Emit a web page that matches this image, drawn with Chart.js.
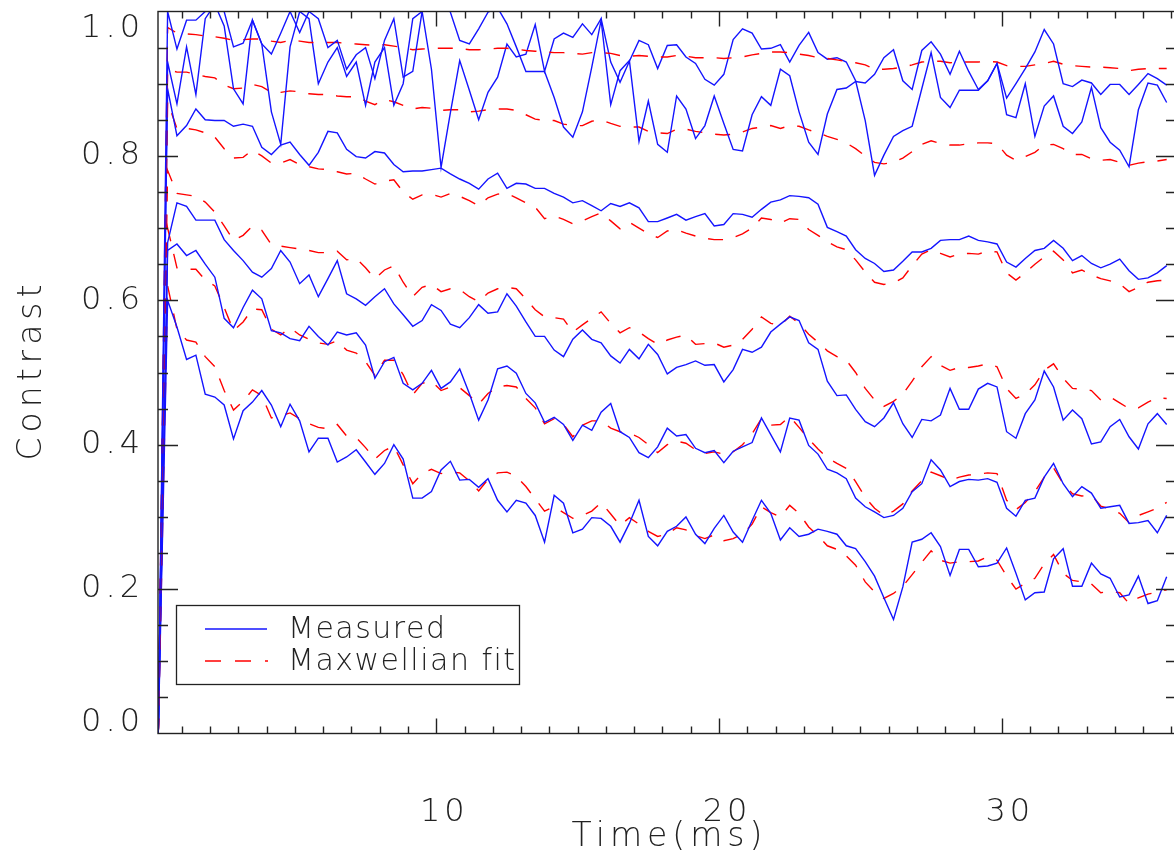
<!DOCTYPE html>
<html>
<head>
<meta charset="utf-8">
<script src="https://cdn.jsdelivr.net/npm/chart.js@4.4.0/dist/chart.umd.min.js"></script>
<style>
  html, body { margin: 0; padding: 0; overflow: hidden; background: #fff; }
</style>
</head>
<body>
<canvas id="grafico" width="1178" height="855"></canvas>
<script>
// sample times (ms)
const time = [
  0.17, 0.50, 0.83, 1.17, 1.50, 1.83, 2.17, 2.50, 2.83, 3.17, 3.50, 3.83,
  4.17, 4.50, 4.83, 5.17, 5.50, 5.83, 6.17, 6.50, 6.83, 7.17, 7.50, 7.83,
  8.17, 8.50, 8.83, 9.17, 9.50, 9.83, 10.17, 10.50, 10.83, 11.17, 11.50, 11.83,
  12.17, 12.50, 12.83, 13.17, 13.50, 13.83, 14.17, 14.50, 14.83, 15.17, 15.50, 15.83,
  16.17, 16.50, 16.83, 17.17, 17.50, 17.83, 18.17, 18.50, 18.83, 19.17, 19.50, 19.83,
  20.17, 20.50, 20.83, 21.17, 21.50, 21.83, 22.17, 22.50, 22.83, 23.17, 23.50, 23.83,
  24.17, 24.50, 24.83, 25.17, 25.50, 25.83, 26.17, 26.50, 26.83, 27.17, 27.50, 27.83,
  28.17, 28.50, 28.83, 29.17, 29.50, 29.83, 30.17, 30.50, 30.83, 31.17, 31.50, 31.83,
  32.17, 32.50, 32.83, 33.17, 33.50, 33.83, 34.17, 34.50, 34.83, 35.17, 35.50, 35.83
];

// measured contrast, six curves
const measured1 = [
  0, 1.0, 0.948, 0.988, 0.988, 1.0, 1.02, 1.0, 0.951, 0.956, 0.988, 0.955,
  0.941, 0.97, 1.0, 0.971, 1.0, 0.99, 0.95, 0.96, 0.92, 0.94, 0.95, 0.907,
  0.96, 0.99, 0.909, 0.917, 1.0, 1.01, 1.02, 0.999, 0.960, 0.955, 0.976, 0.999,
  1.005, 0.983, 0.951, 0.917, 0.917, 0.917, 0.881, 0.840, 0.826, 0.861, 0.923, 0.988,
  0.871, 0.918, 0.932, 0.820, 0.876, 0.816, 0.805, 0.883, 0.865, 0.824, 0.842, 0.883,
  0.845, 0.809, 0.807, 0.857, 0.882, 0.870, 0.920, 0.911, 0.861, 0.819, 0.802, 0.858,
  0.892, 0.894, 0.903, 0.901, 0.913, 0.936, 0.947, 0.904, 0.892, 0.946, 0.958, 0.941,
  0.913, 0.945, 0.917, 0.892, 0.904, 0.928, 0.880, 0.900, 0.921, 0.944, 0.975, 0.955,
  0.900, 0.896, 0.905, 0.901, 0.885, 0.899, 0.899, 0.885, 0.899, 0.914, 0.907, 0.898
];
const measured2 = [
  0, 0.93, 0.872, 0.951, 0.885, 0.99, 1.01, 0.98, 0.893, 0.872, 0.988, 0.955,
  0.861, 0.816, 0.951, 1.0, 0.99, 0.90, 0.93, 0.95, 0.91, 0.93, 0.87, 0.93,
  0.95, 0.87, 0.90, 0.99, 1.0, 0.92, 0.784, 0.86, 0.932, 0.891, 0.850, 0.888,
  0.909, 0.955, 0.937, 0.941, 0.982, 0.917, 0.962, 0.970, 0.964, 0.983, 0.968, 0.990,
  0.930, 0.902, 0.931, 0.960, 0.954, 0.921, 0.953, 0.954, 0.937, 0.928, 0.906, 0.898,
  0.913, 0.961, 0.976, 0.970, 0.948, 0.949, 0.954, 0.930, 0.953, 0.971, 0.943, 0.934,
  0.936, 0.930, 0.904, 0.849, 0.773, 0.801, 0.827, 0.835, 0.841, 0.893, 0.943, 0.881,
  0.867, 0.891, 0.891, 0.891, 0.904, 0.928, 0.857, 0.853, 0.900, 0.827, 0.869, 0.883,
  0.841, 0.831, 0.847, 0.895, 0.839, 0.819, 0.808, 0.785, 0.864, 0.901, 0.898, 0.874
];
const measured3 = [
  0, 0.893, 0.828, 0.842, 0.865, 0.850, 0.849, 0.849, 0.841, 0.844, 0.841, 0.812,
  0.802, 0.815, 0.819, 0.802, 0.787, 0.805, 0.834, 0.832, 0.809, 0.799, 0.797, 0.806,
  0.804, 0.788, 0.778, 0.779, 0.779, 0.781, 0.783, 0.775, 0.768, 0.762, 0.754, 0.768,
  0.776, 0.755, 0.762, 0.761, 0.755, 0.755, 0.748, 0.743, 0.735, 0.738, 0.731, 0.724,
  0.734, 0.730, 0.735, 0.728, 0.709, 0.709, 0.714, 0.719, 0.711, 0.716, 0.720, 0.703,
  0.705, 0.720, 0.719, 0.715, 0.726, 0.736, 0.739, 0.745, 0.744, 0.742, 0.733, 0.701,
  0.695, 0.689, 0.670, 0.658, 0.651, 0.640, 0.642, 0.654, 0.667, 0.667, 0.672, 0.683,
  0.684, 0.684, 0.689, 0.683, 0.681, 0.678, 0.653, 0.646, 0.658, 0.669, 0.672, 0.683,
  0.672, 0.655, 0.662, 0.651, 0.645, 0.650, 0.657, 0.641, 0.629, 0.631, 0.638, 0.648
];
const measured4 = [
  0, 0.68, 0.735, 0.730, 0.711, 0.711, 0.711, 0.684, 0.669, 0.655, 0.639, 0.632,
  0.644, 0.669, 0.653, 0.623, 0.635, 0.605, 0.630, 0.655, 0.609, 0.602, 0.593, 0.605,
  0.616, 0.595, 0.580, 0.564, 0.572, 0.594, 0.586, 0.567, 0.562, 0.576, 0.594, 0.582,
  0.584, 0.609, 0.592, 0.570, 0.550, 0.550, 0.531, 0.522, 0.546, 0.559, 0.546, 0.541,
  0.523, 0.513, 0.532, 0.519, 0.539, 0.525, 0.498, 0.507, 0.511, 0.516, 0.510, 0.511,
  0.487, 0.504, 0.532, 0.528, 0.535, 0.556, 0.567, 0.577, 0.572, 0.541, 0.532, 0.488,
  0.468, 0.469, 0.449, 0.432, 0.425, 0.437, 0.458, 0.429, 0.410, 0.435, 0.433, 0.441,
  0.478, 0.449, 0.449, 0.477, 0.485, 0.480, 0.418, 0.409, 0.443, 0.462, 0.502, 0.480,
  0.434, 0.448, 0.436, 0.401, 0.404, 0.425, 0.435, 0.411, 0.394, 0.429, 0.443, 0.428
];
const measured5 = [
  0, 0.669, 0.678, 0.662, 0.669, 0.650, 0.632, 0.575, 0.562, 0.590, 0.614, 0.602,
  0.558, 0.555, 0.547, 0.544, 0.564, 0.550, 0.538, 0.556, 0.552, 0.555, 0.538, 0.492,
  0.515, 0.521, 0.485, 0.476, 0.485, 0.503, 0.478, 0.487, 0.505, 0.471, 0.434, 0.462,
  0.505, 0.509, 0.499, 0.471, 0.458, 0.431, 0.438, 0.428, 0.406, 0.427, 0.420, 0.445,
  0.457, 0.418, 0.410, 0.389, 0.382, 0.397, 0.423, 0.412, 0.414, 0.395, 0.389, 0.392,
  0.375, 0.391, 0.397, 0.403, 0.437, 0.414, 0.390, 0.437, 0.434, 0.399, 0.387, 0.366,
  0.361, 0.353, 0.326, 0.314, 0.307, 0.299, 0.302, 0.312, 0.335, 0.346, 0.379, 0.365,
  0.342, 0.349, 0.352, 0.351, 0.353, 0.348, 0.312, 0.301, 0.323, 0.326, 0.355, 0.374,
  0.346, 0.328, 0.342, 0.333, 0.312, 0.314, 0.316, 0.291, 0.292, 0.295, 0.278, 0.302
];
const measured6 = [
  0, 0.60, 0.563, 0.518, 0.524, 0.470, 0.466, 0.455, 0.408, 0.447, 0.459, 0.475,
  0.455, 0.425, 0.456, 0.433, 0.390, 0.409, 0.409, 0.376, 0.383, 0.393, 0.376, 0.359,
  0.374, 0.400, 0.380, 0.326, 0.326, 0.335, 0.365, 0.377, 0.351, 0.352, 0.341, 0.353,
  0.323, 0.307, 0.323, 0.319, 0.302, 0.265, 0.330, 0.319, 0.278, 0.283, 0.299, 0.298,
  0.287, 0.265, 0.291, 0.323, 0.273, 0.260, 0.280, 0.287, 0.300, 0.276, 0.263, 0.284,
  0.302, 0.279, 0.265, 0.295, 0.323, 0.305, 0.268, 0.285, 0.273, 0.276, 0.283, 0.280,
  0.276, 0.260, 0.256, 0.238, 0.218, 0.188, 0.158, 0.203, 0.265, 0.269, 0.278, 0.259,
  0.219, 0.255, 0.255, 0.231, 0.232, 0.236, 0.257, 0.222, 0.185, 0.195, 0.196, 0.242,
  0.256, 0.204, 0.204, 0.236, 0.221, 0.215, 0.189, 0.192, 0.218, 0.180, 0.184, 0.217
];

// Maxwellian fits
const fit1 = [
  0, 0.978, 0.970, 0.969, 0.968, 0.966, 0.965, 0.963, 0.960, 0.961, 0.962, 0.962,
  0.959, 0.957, 0.960, 0.959, 0.957, 0.957, 0.957, 0.957, 0.956, 0.955, 0.954, 0.953,
  0.954, 0.952, 0.950, 0.947, 0.948, 0.949, 0.949, 0.949, 0.949, 0.947, 0.947, 0.948,
  0.949, 0.949, 0.948, 0.946, 0.945, 0.944, 0.943, 0.943, 0.942, 0.941, 0.943, 0.943,
  0.942, 0.939, 0.938, 0.939, 0.938, 0.937, 0.937, 0.939, 0.938, 0.936, 0.936, 0.936,
  0.935, 0.936, 0.937, 0.940, 0.942, 0.944, 0.944, 0.943, 0.941, 0.939, 0.936, 0.935,
  0.933, 0.931, 0.929, 0.926, 0.920, 0.920, 0.921, 0.923, 0.926, 0.930, 0.931, 0.931,
  0.929, 0.930, 0.930, 0.930, 0.931, 0.930, 0.925, 0.924, 0.924, 0.926, 0.928, 0.931,
  0.927, 0.925, 0.924, 0.923, 0.923, 0.922, 0.921, 0.918, 0.920, 0.921, 0.921, 0.921
];
const fit2 = [
  0, 0.92, 0.916, 0.916, 0.913, 0.910, 0.908, 0.898, 0.893, 0.894, 0.899, 0.896,
  0.888, 0.888, 0.890, 0.889, 0.886, 0.885, 0.885, 0.883, 0.882, 0.882, 0.876, 0.871,
  0.878, 0.875, 0.870, 0.865, 0.867, 0.866, 0.863, 0.864, 0.864, 0.861, 0.862, 0.864,
  0.865, 0.865, 0.863, 0.857, 0.851, 0.849, 0.849, 0.844, 0.842, 0.842, 0.848, 0.850,
  0.845, 0.841, 0.840, 0.840, 0.834, 0.832, 0.831, 0.837, 0.837, 0.834, 0.832, 0.830,
  0.829, 0.830, 0.833, 0.838, 0.840, 0.842, 0.838, 0.842, 0.841, 0.836, 0.832, 0.827,
  0.823, 0.818, 0.810, 0.800, 0.791, 0.789, 0.791, 0.797, 0.806, 0.816, 0.821, 0.817,
  0.815, 0.815, 0.817, 0.818, 0.818, 0.817, 0.801, 0.794, 0.799, 0.805, 0.815, 0.816,
  0.810, 0.802, 0.802, 0.796, 0.794, 0.795, 0.791, 0.787, 0.790, 0.792, 0.793, 0.795
];
const fit3 = [
  0, 0.875, 0.838, 0.838, 0.836, 0.832, 0.826, 0.810, 0.797, 0.798, 0.808, 0.800,
  0.790, 0.790, 0.795, 0.788, 0.785, 0.782, 0.781, 0.778, 0.775, 0.776, 0.768, 0.761,
  0.765, 0.767, 0.750, 0.740, 0.746, 0.747, 0.743, 0.748, 0.744, 0.738, 0.731, 0.742,
  0.747, 0.748, 0.742, 0.735, 0.729, 0.713, 0.717, 0.712, 0.706, 0.710, 0.716, 0.721,
  0.710, 0.699, 0.708, 0.700, 0.692, 0.687, 0.696, 0.698, 0.693, 0.689, 0.686, 0.684,
  0.684, 0.687, 0.692, 0.700, 0.714, 0.712, 0.707, 0.713, 0.712, 0.698, 0.690, 0.681,
  0.674, 0.670, 0.656, 0.639, 0.625, 0.622, 0.624, 0.631, 0.648, 0.664, 0.670, 0.665,
  0.660, 0.664, 0.665, 0.664, 0.668, 0.667, 0.638, 0.628, 0.638, 0.650, 0.660, 0.668,
  0.656, 0.638, 0.642, 0.635, 0.630, 0.627, 0.623, 0.612, 0.618, 0.625, 0.627, 0.628
];
const fit4 = [
  0, 0.78, 0.748, 0.746, 0.744, 0.736, 0.722, 0.703, 0.683, 0.690, 0.703, 0.697,
  0.677, 0.675, 0.673, 0.671, 0.669, 0.666, 0.666, 0.668, 0.656, 0.658, 0.645, 0.630,
  0.642, 0.648, 0.625, 0.605, 0.618, 0.622, 0.612, 0.616, 0.615, 0.605, 0.598, 0.610,
  0.616, 0.618, 0.616, 0.602, 0.587, 0.577, 0.576, 0.574, 0.556, 0.566, 0.575, 0.584,
  0.568, 0.555, 0.562, 0.556, 0.547, 0.539, 0.545, 0.549, 0.552, 0.539, 0.540, 0.541,
  0.535, 0.538, 0.546, 0.560, 0.577, 0.568, 0.565, 0.578, 0.568, 0.553, 0.542, 0.530,
  0.522, 0.517, 0.500, 0.478, 0.462, 0.453, 0.460, 0.470, 0.488, 0.508, 0.522, 0.510,
  0.503, 0.507, 0.507, 0.509, 0.512, 0.508, 0.478, 0.464, 0.470, 0.483, 0.503, 0.512,
  0.492, 0.478, 0.477, 0.475, 0.462, 0.466, 0.458, 0.450, 0.451, 0.459, 0.465, 0.464
];
const fit5 = [
  0, 0.70, 0.645, 0.643, 0.643, 0.628, 0.620, 0.590, 0.558, 0.570, 0.588, 0.587,
  0.560, 0.552, 0.562, 0.552, 0.546, 0.541, 0.539, 0.544, 0.531, 0.527, 0.515, 0.496,
  0.517, 0.517, 0.497, 0.469, 0.485, 0.488, 0.475, 0.480, 0.479, 0.468, 0.456, 0.471,
  0.480, 0.482, 0.480, 0.464, 0.451, 0.429, 0.436, 0.428, 0.411, 0.427, 0.433, 0.433,
  0.423, 0.418, 0.416, 0.410, 0.400, 0.389, 0.400, 0.405, 0.402, 0.393, 0.388, 0.390,
  0.387, 0.390, 0.400, 0.415, 0.436, 0.427, 0.428, 0.439, 0.424, 0.408, 0.394, 0.382,
  0.374, 0.367, 0.349, 0.327, 0.312, 0.302, 0.308, 0.318, 0.336, 0.350, 0.362, 0.357,
  0.351, 0.355, 0.358, 0.359, 0.361, 0.360, 0.323, 0.310, 0.320, 0.335, 0.355, 0.368,
  0.346, 0.332, 0.329, 0.330, 0.315, 0.311, 0.305, 0.292, 0.302, 0.307, 0.312, 0.320
];
const fit6 = [
  0, 0.62, 0.560, 0.545, 0.542, 0.522, 0.508, 0.475, 0.448, 0.460, 0.476, 0.468,
  0.437, 0.440, 0.444, 0.436, 0.429, 0.424, 0.422, 0.428, 0.412, 0.410, 0.396, 0.380,
  0.392, 0.398, 0.372, 0.346, 0.360, 0.366, 0.360, 0.362, 0.361, 0.350, 0.336, 0.352,
  0.361, 0.362, 0.356, 0.342, 0.325, 0.308, 0.314, 0.306, 0.298, 0.302, 0.308, 0.320,
  0.304, 0.288, 0.299, 0.290, 0.280, 0.273, 0.276, 0.285, 0.282, 0.274, 0.270, 0.275,
  0.267, 0.270, 0.276, 0.290, 0.314, 0.306, 0.300, 0.316, 0.305, 0.286, 0.274, 0.260,
  0.255, 0.246, 0.233, 0.210, 0.196, 0.187, 0.194, 0.204, 0.220, 0.237, 0.253, 0.240,
  0.236, 0.238, 0.238, 0.239, 0.245, 0.240, 0.218, 0.200, 0.208, 0.215, 0.235, 0.248,
  0.222, 0.212, 0.210, 0.207, 0.195, 0.197, 0.195, 0.180, 0.188, 0.193, 0.196, 0.199
];

const yTicks = [0.0, 0.2, 0.4, 0.6, 0.8, 1.0];
const xTicks = [10, 20, 30];
const legendLabels = ['Measured', 'Maxwellian fit'];

const BLUE = 'rgb(20, 20, 255)';
const RED = 'rgb(255, 0, 0)';
const DASH = [15, 13];
const FONT = '200 32px "DejaVu Sans", "Noto Sans", sans-serif';
const INK = '#222';

const measuredSets = [measured1, measured2, measured3, measured4, measured5, measured6];
const fitSets = [fit1, fit2, fit3, fit4, fit5, fit6];

function pts(values) {
  return values.map((v, i) => ({ x: time[i], y: v }));
}

const datasets = [];
measuredSets.forEach((m, i) => {
  datasets.push({
    label: 'Measured ' + (i + 1),
    data: pts(m),
    borderColor: BLUE,
    borderWidth: 1.4,
    pointRadius: 0,
    tension: 0
  });
  datasets.push({
    label: 'Maxwellian fit ' + (i + 1),
    data: pts(fitSets[i]),
    borderColor: RED,
    borderWidth: 1.4,
    borderDash: DASH,
    pointRadius: 0,
    tension: 0
  });
});

function spacedText(ctx, text, x, y, spacing, align) {
  ctx.letterSpacing = spacing + 'px';
  const w = ctx.measureText(text).width - spacing;
  let sx = x;
  if (align === 'right') sx = x - w;
  else if (align === 'center') sx = x - w / 2;
  ctx.textAlign = 'left';
  ctx.fillText(text, sx, y);
  ctx.letterSpacing = '0px';
}

// IDL-like frame: inward ticks on all four sides, labels, titles and boxed legend
const idlFrame = {
  id: 'idlFrame',
  afterDatasetsDraw(chart) {
    const { ctx, chartArea: a, scales: { x, y } } = chart;
    ctx.save();
    ctx.strokeStyle = INK;
    ctx.lineWidth = 1.4;
    ctx.strokeRect(a.left, a.top, a.right - a.left, a.bottom - a.top);

    ctx.beginPath();
    for (let t = 1; t <= 36; t++) {
      const px = Math.round(x.getPixelForValue(t)) + 0.5;
      if (px > a.right) break;
      const len = t % 10 === 0 ? 15 : 7;
      ctx.moveTo(px, a.bottom); ctx.lineTo(px, a.bottom - len);
      ctx.moveTo(px, a.top); ctx.lineTo(px, a.top + len);
    }
    for (let i = 1; i < 20; i++) {
      const py = Math.round(y.getPixelForValue(i * 0.05)) + 0.5;
      const len = i % 4 === 0 ? 20 : 10;
      ctx.moveTo(a.left, py); ctx.lineTo(a.left + len, py);
      ctx.moveTo(a.right, py); ctx.lineTo(a.right - len, py);
    }
    ctx.stroke();

    ctx.fillStyle = INK;
    ctx.font = FONT;
    ctx.textBaseline = 'middle';
    yTicks.forEach(v => {
      let py = y.getPixelForValue(v);
      py = Math.min(Math.max(py, a.top + 17), a.bottom - 11);
      spacedText(ctx, v.toFixed(1), 140, py, 4, 'right');
    });
    ctx.textBaseline = 'alphabetic';
    xTicks.forEach(v => {
      spacedText(ctx, String(v), x.getPixelForValue(v) + 6, 821, 4, 'center');
    });

    ctx.font = '200 33px "DejaVu Sans", "Noto Sans", sans-serif';
    spacedText(ctx, 'Time(ms)', (a.left + a.right) / 2, 846, 5, 'center');
    ctx.save();
    ctx.translate(41, (a.top + a.bottom) / 2);
    ctx.rotate(-Math.PI / 2);
    spacedText(ctx, 'Contrast', 0, 0, 5, 'center');
    ctx.restore();

    // legend
    ctx.lineWidth = 1.3;
    ctx.strokeRect(176.5, 605.5, 343, 79);
    ctx.lineWidth = 1.4;
    ctx.strokeStyle = BLUE;
    ctx.beginPath(); ctx.moveTo(205, 629); ctx.lineTo(267, 629); ctx.stroke();
    ctx.strokeStyle = RED;
    ctx.setLineDash([16, 14]);
    ctx.beginPath(); ctx.moveTo(205, 661); ctx.lineTo(268, 661); ctx.stroke();
    ctx.setLineDash([]);
    ctx.font = '200 30px "DejaVu Sans", "Noto Sans", sans-serif';
    ctx.fillStyle = INK;
    spacedText(ctx, legendLabels[0], 288, 638, 1.5, 'left');
    spacedText(ctx, legendLabels[1], 288, 670, 1.5, 'left');
    ctx.restore();
  }
};

const ctx = document.getElementById('grafico').getContext('2d');

const grafico = new Chart(ctx, {
  type: 'line',
  data: { datasets },
  options: {
    responsive: false,
    animation: false,
    devicePixelRatio: 1,
    layout: { padding: { left: 158, top: 11.5, right: 2, bottom: 121.5 } },
    scales: {
      x: { type: 'linear', min: 0.16, max: 36.16, display: false },
      y: { type: 'linear', min: 0, max: 1.0, display: false }
    },
    plugins: {
      legend: { display: false },
      tooltip: { enabled: false }
    }
  },
  plugins: [idlFrame]
});
</script>
</body>
</html>
